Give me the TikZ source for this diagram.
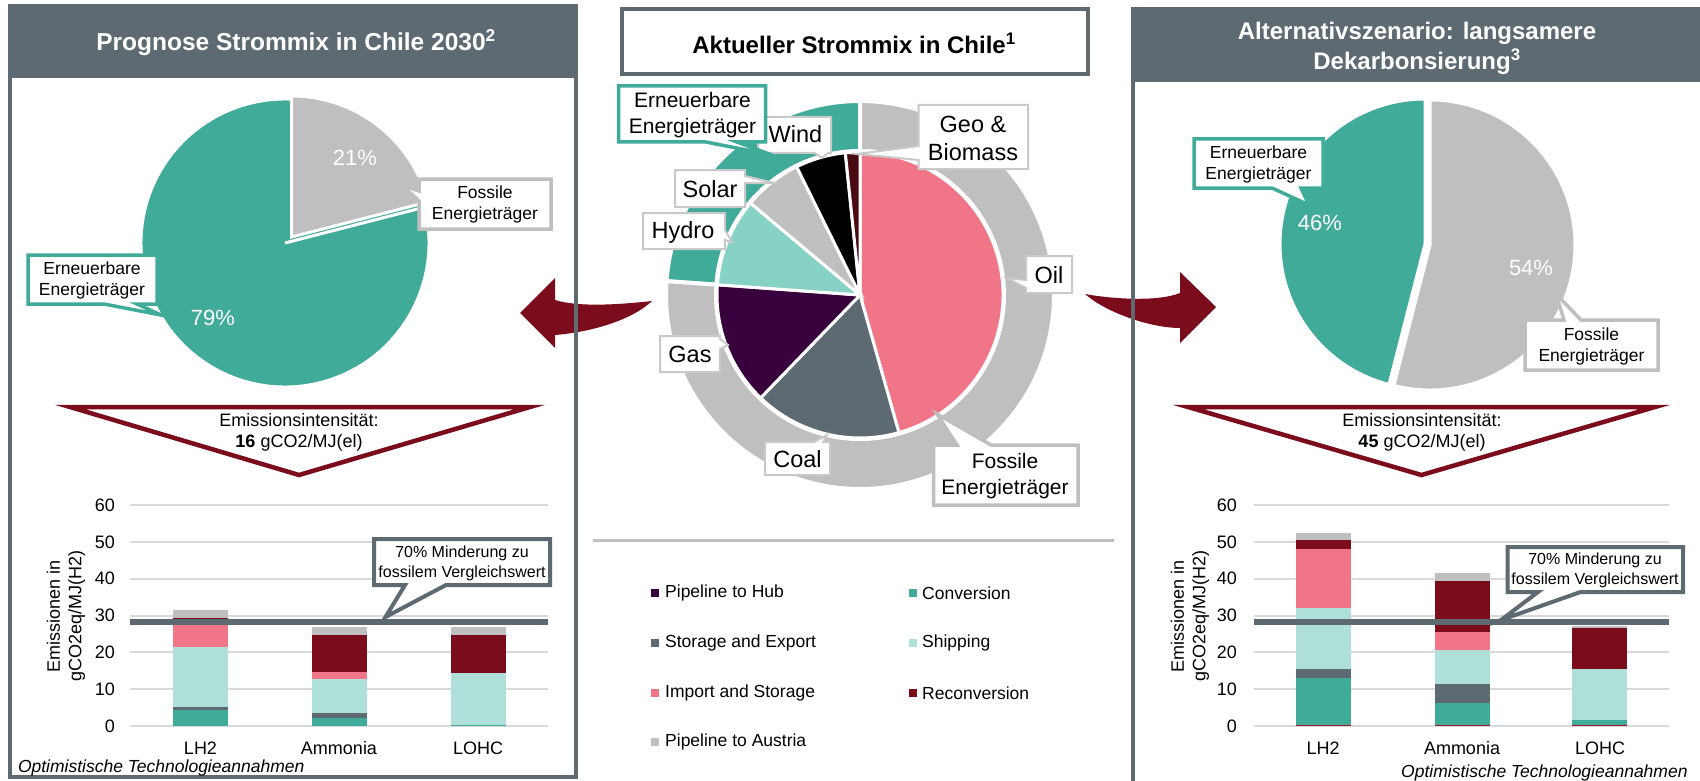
\documentclass[tikz,border=0pt]{standalone}
\usepackage{fontspec}
\setmainfont{Liberation Sans}
\definecolor{slate}{HTML}{5E6A72}
\definecolor{teal1}{HTML}{41AB9A}
\definecolor{lteal}{HTML}{86D2C5}
\definecolor{ship}{HTML}{AEE0D9}
\definecolor{gry}{HTML}{BFBFBF}
\definecolor{pink1}{HTML}{F07587}
\definecolor{dred}{HTML}{7A0C1C}
\definecolor{hubred}{HTML}{A3142A}
\definecolor{dpurp}{HTML}{38003C}
\definecolor{geo}{HTML}{4A0A12}
\definecolor{lbl}{HTML}{C9C9C9}
\definecolor{gridc}{HTML}{D9D9D9}
\newcommand{\fs}[2]{\fontsize{#1}{#2}\selectfont}
% slice: center, radius, a1, a2 (visual ccw degrees), options
\newcommand{\pieslice}[5]{\filldraw[#5] (#1) -- ++({-(#3)}:#2) arc[start angle={-(#3)}, end angle={-(#4)}, radius=#2] -- cycle;}
% stacked bar piece: x, width, v0, v1, color
\newcommand{\stk}[5]{\fill[#5] (#1,{726-3.683*(#3)}) rectangle ({#1+#2},{726-3.683*(#4)});}
\tikzset{
  cal/.style={fill=white, line width=3.5},
  small/.style={fill=white, draw=lbl, line width=2},
  sl/.style={draw=white, line width=3},
  ctxt/.style={font=\fs{17.5}{21}, align=center, inner sep=0},
  btxt/.style={font=\fs{23.5}{28}, align=center, inner sep=0},
  mtxt/.style={font=\fs{21}{26}, align=center, inner sep=0},
  pct/.style={font=\fs{22}{26}, text=white, inner sep=0},
  tick/.style={font=\fs{18}{21}, inner sep=0},
  gline/.style={draw=gridc, line width=2},
  legsq/.style={minimum size=8.5, inner sep=0, outer sep=0},
  legtxt/.style={font=\fs{17.5}{21}, anchor=west, inner sep=0},
  note/.style={font=\fs{17.5}{21}\itshape, anchor=west, inner sep=0}
}
\begin{document}
\begin{tikzpicture}[x=1pt,y=-1pt,line join=miter]
\useasboundingbox (0,0) rectangle (1700,781);
% ---------- panel headers ----------
\fill[slate] (8,4) rectangle (578,78);
\fill[slate] (1131,7) rectangle (1712,82);
\node[font=\fs{24.5}{28}\bfseries, text=white, inner sep=0] (tleft) at (296,43) {Prognose Strommix in Chile 2030\textsuperscript{2}};
\node[font=\fs{24}{30}\bfseries, text=white, align=center, inner sep=0] (tright) at (1417,48) {Alternativszenario: langsamere\\Dekarbonsierung\textsuperscript{3}};
% ---------- curved arrows ----------
\fill[dred] (652,301) .. controls (615,305) and (578,307) .. (555,300) -- (555,278) -- (520,313) -- (555,348) -- (555,335) .. controls (592,332) and (632,320) .. (652,301) -- cycle;
\fill[dred] (1085,294) .. controls (1112,299) and (1158,302) .. (1180,293) -- (1180,272) -- (1216,307) -- (1180,343) -- (1180,328) .. controls (1150,328) and (1105,312) .. (1085,294) -- cycle;
% ---------- panel borders ----------
\draw[slate, line width=4] (10,6) rectangle (576,777);
\draw[slate, line width=4] (1133,9) rectangle (1712,795);
% ---------- center title ----------
\draw[slate, line width=3.5, fill=white] (622,9) rectangle (1088,74);
\node[font=\fs{24}{28}\bfseries, inner sep=0] (tcenter) at (854,43) {Aktueller Strommix in Chile\textsuperscript{1}};
% ---------- left pie ----------
\pieslice{285,243}{144}{14.4}{374.4}{fill=teal1, sl}
\pieslice{291.5,237}{141}{14.4}{90}{fill=gry, sl}
\node[pct] (p21) at (355,158) {21\%};
\node[pct] (p79) at (213,318) {79\%};
\draw[cal, draw=gry] (419,179) -- (551,179) -- (551,229) -- (419,229) -- (419,201) -- (402,185) -- (419,191) -- cycle;
\node[ctxt] (fosl) at (485,204) {Fossile\\Energieträger};
\draw[cal, draw=teal1] (28,255) -- (157,255) -- (157,304) -- (137,304) -- (161,315) -- (104,304) -- (28,304) -- cycle;
\node[ctxt] (eel) at (92,280) {Erneuerbare\\Energieträger};
% ---------- right pie ----------
\pieslice{1425,244}{145}{90}{255.6}{fill=teal1, sl}
\pieslice{1430,245}{145}{255.6}{450}{fill=gry, sl}
\node[pct] (p46) at (1320,223) {46\%};
\node[pct] (p54) at (1531,268) {54\%};
\draw[cal, draw=teal1] (1194,139) -- (1323,139) -- (1323,188) -- (1301,188) -- (1309,205) -- (1272,188) -- (1194,188) -- cycle;
\node[ctxt] (eer) at (1258.5,164) {Erneuerbare\\Energieträger};
\draw[cal, draw=gry] (1525,320) -- (1564,320) -- (1556,294) -- (1581,320) -- (1658,320) -- (1658,370) -- (1525,370) -- cycle;
\node[ctxt] (fosr) at (1591.5,346) {Fossile\\Energieträger};
% ---------- center pie ----------
\pieslice{860,295}{194}{90}{175.9}{fill=teal1, draw=white, line width=4}
\pieslice{860,295}{194}{175.9}{450}{fill=gry, draw=white, line width=4}
\fill[white] (860,295) circle[radius=146];
\pieslice{860,295}{143}{-74.2}{90}{fill=pink1, sl}
\pieslice{860,295}{143}{-134}{-74.2}{fill=slate, sl}
\pieslice{860,295}{143}{175.9}{226}{fill=dpurp, sl}
\pieslice{860,295}{143}{140}{175.9}{fill=lteal, sl}
\pieslice{860,295}{143}{116.3}{140}{fill=gry, sl}
\pieslice{860,295}{143}{95.9}{116.3}{fill=black, sl}
\pieslice{860,295}{143}{90}{95.9}{fill=geo, sl}
% small labels
\draw[small] (758,117) -- (831,117) -- (831,153) -- (828,153) -- (822,158) -- (815,153) -- (758,153) -- cycle;
\node[btxt] (wind) at (795.5,134) {Wind};
\draw[small] (675,170) -- (745,170) -- (745,176) -- (774,183) -- (745,183) -- (745,207) -- (675,207) -- cycle;
\node[btxt] (solar) at (710,189.5) {Solar};
\draw[small] (643,213) -- (725,213) -- (725,230) -- (732,242) -- (725,240) -- (725,249) -- (643,249) -- cycle;
\node[btxt] (hydro) at (683,232) {Hydro};
\draw[small] (660,336) -- (720,336) -- (720,339) -- (728,345) -- (720,349) -- (720,372) -- (660,372) -- cycle;
\node[btxt] (gas) at (690,354) {Gas};
\draw[small] (765,442) -- (814,442) -- (827,435) -- (823,442) -- (830,442) -- (830,475) -- (765,475) -- cycle;
\node[btxt] (coal) at (797.5,459) {Coal};
\draw[small] (918.6,105) -- (1028,105) -- (1028,169) -- (918.6,169) -- (918.6,160) -- (857,154) -- (918.6,146) -- cycle;
\node[btxt] (geob) at (973,138) {Geo \&\\Biomass};
\draw[small] (1026,256) -- (1072,256) -- (1072,293) -- (1026,293) -- (1026,288) -- (1007,278) -- (1026,280) -- cycle;
\node[btxt] (oil) at (1049,275) {Oil};
\draw[cal, draw=teal1] (618.6,86) -- (765.7,86) -- (765.7,142) -- (737,142) -- (772,155) -- (706,142) -- (618.6,142) -- cycle;
\node[mtxt] (eec) at (692.5,115) {Erneuerbare\\Energieträger};
\draw[cal, draw=gry] (933.6,445) -- (957,445) -- (937,414) -- (991,445) -- (1078,445) -- (1078,505) -- (933.6,505) -- cycle;
\node[mtxt] (fosc) at (1005,476) {Fossile\\Energieträger};
% ---------- legend ----------
\draw[gry, line width=3] (592.5,540) -- (1114,540);
\node[legsq, fill=dpurp] (sq1) at (655,593) {};
\node[legtxt] (lg1) at (665,593) {Pipeline to Hub};
\node[legsq, fill=slate] (sq2) at (655,643) {};
\node[legtxt] (lg2) at (665,643) {Storage and Export};
\node[legsq, fill=pink1] (sq3) at (655,693) {};
\node[legtxt] (lg3) at (665,693) {Import and Storage};
\node[legsq, fill=gry] (sq4) at (655,742) {};
\node[legtxt] (lg4) at (665,742) {Pipeline to Austria};
\node[legsq, fill=teal1] (sq5) at (913,593) {};
\node[legtxt] (lg5) at (922,593) {Conversion};
\node[legsq, fill=ship] (sq6) at (913,643) {};
\node[legtxt] (lg6) at (922,643) {Shipping};
\node[legsq, fill=dred] (sq7) at (913,693) {};
\node[legtxt] (lg7) at (922,693) {Reconversion};
% ---------- triangles ----------
\draw[dred, line width=4.5, fill=white] (70,407) -- (530,407) -- (299,475) -- cycle;
\node[font=\fs{18}{21.5}, align=center, inner sep=0] (eil) at (299,432.5) {Emissionsintensität:\\\textbf{16} gCO2/MJ(el)};
\draw[dred, line width=4.5, fill=white] (1188,407) -- (1655,407) -- (1421.5,475) -- cycle;
\node[font=\fs{18}{21.5}, align=center, inner sep=0] (eir) at (1422,432.5) {Emissionsintensität:\\\textbf{45} gCO2/MJ(el)};
% ---------- left chart ----------
\foreach \v in {0,10,...,60} {
  \draw[gline] (130,{726-3.683*\v}) -- (547.5,{726-3.683*\v});
  \node[tick, anchor=east] (lt\v) at (115,{726-3.683*\v}) {\v};
}
% LH2
\stk{173}{54.5}{0}{4.4}{teal1}
\stk{173}{54.5}{4.4}{5.2}{slate}
\stk{173}{54.5}{5.2}{21.5}{ship}
\stk{173}{54.5}{21.5}{28.8}{pink1}
\stk{173}{54.5}{28.8}{29.3}{dred}
\stk{173}{54.5}{29.3}{31.4}{gry}
% Ammonia
\stk{312}{54.5}{0}{2.1}{teal1}
\stk{312}{54.5}{2.1}{3.6}{slate}
\stk{312}{54.5}{3.6}{12.8}{ship}
\stk{312}{54.5}{12.8}{14.6}{pink1}
\stk{312}{54.5}{14.6}{24.8}{dred}
\stk{312}{54.5}{24.8}{26.8}{gry}
% LOHC
\stk{451}{54.5}{0}{0.3}{teal1}
\stk{451}{54.5}{0.3}{14.4}{ship}
\stk{451}{54.5}{14.4}{24.8}{dred}
\stk{451}{54.5}{24.8}{26.8}{gry}
\draw[slate, line width=6] (130,622) -- (547.5,622);
\draw[cal, draw=slate, line width=4] (374,539) -- (550,539) -- (550,585) -- (446,585) -- (385.5,617) -- (405,585) -- (374,585) -- cycle;
\node[font=\fs{16}{20}, align=center, inner sep=0] (cl) at (462,563) {70\% Minderung zu\\fossilem Vergleichswert};
\node[tick] (xl1) at (200.5,748) {LH2};
\node[tick] (xl2) at (339,748) {Ammonia};
\node[tick] (xl3) at (478,748) {LOHC};
\node[rotate=90, font=\fs{18}{21.5}, align=center, inner sep=0] (ytl) at (66,616) {Emissionen in\\gCO2eq/MJ(H2)};
\node[note] (notel) at (17.8,768) {Optimistische Technologieannahmen};
% ---------- right chart ----------
\foreach \v in {0,10,...,60} {
  \draw[gline] (1254,{726-3.683*\v}) -- (1669.4,{726-3.683*\v});
  \node[tick, anchor=east] (rt\v) at (1237,{726-3.683*\v}) {\v};
}
% LH2
\stk{1295.7}{55}{0}{0.4}{hubred}
\stk{1295.7}{55}{0.4}{12.9}{teal1}
\stk{1295.7}{55}{12.9}{15.4}{slate}
\stk{1295.7}{55}{15.4}{32.1}{ship}
\stk{1295.7}{55}{32.1}{48.0}{pink1}
\stk{1295.7}{55}{48.0}{50.4}{dred}
\stk{1295.7}{55}{50.4}{52.5}{gry}
% Ammonia
\stk{1434.5}{55}{0}{0.4}{hubred}
\stk{1434.5}{55}{0.4}{6.3}{teal1}
\stk{1434.5}{55}{6.3}{11.3}{slate}
\stk{1434.5}{55}{11.3}{20.6}{ship}
\stk{1434.5}{55}{20.6}{25.6}{pink1}
\stk{1434.5}{55}{25.6}{39.5}{dred}
\stk{1434.5}{55}{39.5}{41.5}{gry}
% LOHC
\stk{1572}{55}{0}{0.4}{hubred}
\stk{1572}{55}{0.4}{1.5}{teal1}
\stk{1572}{55}{1.5}{15.6}{ship}
\stk{1572}{55}{15.6}{26.6}{dred}
\stk{1572}{55}{26.6}{27.1}{gry}
\draw[slate, line width=6] (1254,622) -- (1669.4,622);
\draw[cal, draw=slate, line width=4] (1507.7,547) -- (1683,547) -- (1683,592) -- (1580.6,592) -- (1501,620) -- (1538,592) -- (1507.7,592) -- cycle;
\node[font=\fs{16}{20}, align=center, inner sep=0] (cr) at (1595,570) {70\% Minderung zu\\fossilem Vergleichswert};
\node[tick] (xr1) at (1323,748) {LH2};
\node[tick] (xr2) at (1462,748) {Ammonia};
\node[tick] (xr3) at (1600,748) {LOHC};
\node[rotate=90, font=\fs{18}{21.5}, align=center, inner sep=0] (ytr) at (1190,616) {Emissionen in\\gCO2eq/MJ(H2)};
\node[note] (noter) at (1401,773) {Optimistische Technologieannahmen};
\end{tikzpicture}
\end{document}
